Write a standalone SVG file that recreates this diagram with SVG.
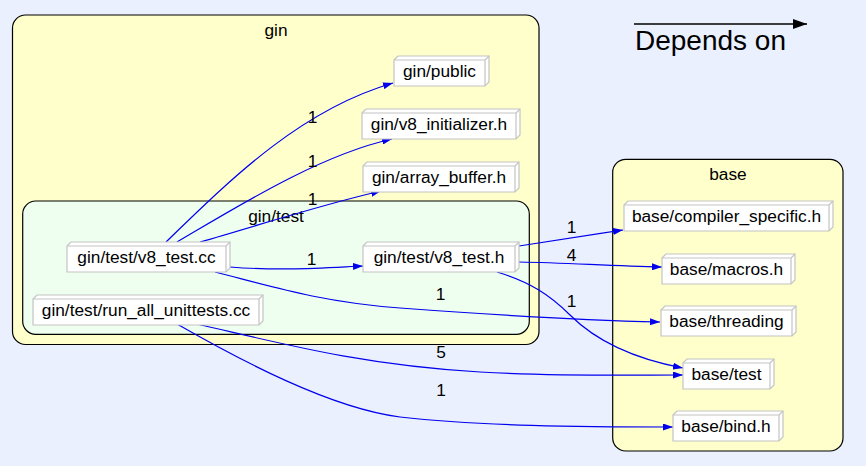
<svg xmlns="http://www.w3.org/2000/svg" width="866" height="466" viewBox="0 0 866 466">
<style>
text{font-family:"Liberation Sans",Arial,sans-serif;font-size:17.3px;fill:#000}
.cl{stroke:#000;stroke-width:1.2}
.n{fill:#fff;stroke:#c4c4c4;stroke-width:1.2}
.nl{fill:none;stroke:#c4c4c4;stroke-width:1.2}
.e{fill:none;stroke:#0000ee;stroke-width:1.2}
.lbl{text-anchor:middle}
</style>
<defs>
<marker id="ah" viewBox="0 0 10 7" refX="10" refY="3.5" markerWidth="10" markerHeight="7" markerUnits="userSpaceOnUse" orient="auto">
<path d="M0,0 L10,3.5 L0,7 Z" fill="#0000ee"/>
</marker>
<marker id="ahk" viewBox="0 0 14 10" refX="14" refY="5" markerWidth="14" markerHeight="10" markerUnits="userSpaceOnUse" orient="auto">
<path d="M0,0 L14,5 L0,10 Z" fill="#000"/>
</marker>
</defs>
<rect width="866" height="466" fill="#ebf0ff"/>

<g id="cluster_gin">
<rect class="cl" x="12.5" y="15" width="526.5" height="329.5" rx="13" fill="#ffffcc"/>
<text class="lbl" x="276" y="36">gin</text>
</g>
<g id="cluster_gin_test">
<rect class="cl" x="22.7" y="201" width="506.6" height="133.3" rx="13" fill="#efffef"/>
<text class="lbl" x="276" y="222">gin/test</text>
</g>
<g id="cluster_base">
<rect class="cl" x="612.7" y="159.3" width="230.3" height="291.7" rx="13" fill="#ffffcc"/>
<text class="lbl" x="728" y="180">base</text>
</g>

<g id="legend">
<line x1="634" y1="24" x2="807" y2="24" stroke="#000" stroke-width="1.5" marker-end="url(#ahk)"/>
<text x="635" y="50" style="font-size:28px">Depends on</text>
</g>

<g id="edges">
<path class="e" d="M166,242 C230,180 300,110 393,83" marker-end="url(#ah)"/>
<text class="lbl" x="312.5" y="123">1</text>
<path class="e" d="M177,242 C240,205 320,155 392,139" marker-end="url(#ah)"/>
<text class="lbl" x="312.5" y="167">1</text>
<path class="e" d="M200,242 C260,225 320,205 381,191" marker-end="url(#ah)"/>
<text class="lbl" x="312.5" y="205">1</text>
<path class="e" d="M230,267 C280,271 320,268 363,266" marker-end="url(#ah)"/>
<text class="lbl" x="311.5" y="265">1</text>
<path class="e" d="M215,272 C270,286 320,302 400,308 C480,314 580,320 660,322" marker-end="url(#ah)"/>
<text class="lbl" x="440.5" y="300">1</text>
<path class="e" d="M519,246 C560,240 590,235 623,230" marker-end="url(#ah)"/>
<text class="lbl" x="571.5" y="233">1</text>
<path class="e" d="M519,262 C570,263 610,266 662,267" marker-end="url(#ah)"/>
<text class="lbl" x="571.5" y="260.5">4</text>
<path class="e" d="M497,272 C530,282 550,295 570,315 C595,340 630,358 683,368" marker-end="url(#ah)"/>
<text class="lbl" x="571.5" y="306.5">1</text>
<path class="e" d="M197,324 C280,343 360,365 480,372 C560,376.5 630,375 683,375" marker-end="url(#ah)"/>
<text class="lbl" x="441" y="358">5</text>
<path class="e" d="M177,324 C240,360 330,408 400,417 C480,426 580,427 673,427" marker-end="url(#ah)"/>
<text class="lbl" x="441" y="395.5">1</text>
</g>

<g id="node_gin_public">
<path class="n" d="M394,60 L398,56 L489,56 L489,82 L485,86 L394,86 Z"/>
<path class="nl" d="M394,60 L485,60 L485,86 M485,60 L489,56"/>
<text class="lbl" x="439.5" y="76.5">gin/public</text>
</g>
<g id="node_gin_v8_initializer">
<path class="n" d="M362,113 L366,109 L520,109 L520,135 L516,139 L362,139 Z"/>
<path class="nl" d="M362,113 L516,113 L516,139 M516,113 L520,109"/>
<text class="lbl" x="439" y="129.5">gin/v8_initializer.h</text>
</g>
<g id="node_gin_array_buffer">
<path class="n" d="M363,166 L367,162 L519,162 L519,188 L515,192 L363,192 Z"/>
<path class="nl" d="M363,166 L515,166 L515,192 M515,166 L519,162"/>
<text class="lbl" x="439" y="182.5">gin/array_buffer.h</text>
</g>
<g id="node_gin_test_v8_test_cc">
<path class="n" d="M67,246 L71,242 L230,242 L230,268 L226,272 L67,272 Z"/>
<path class="nl" d="M67,246 L226,246 L226,272 M226,246 L230,242"/>
<text class="lbl" x="146.5" y="263">gin/test/v8_test.cc</text>
</g>
<g id="node_gin_test_run_all_unittests">
<path class="n" d="M33,299 L37,295 L263,295 L263,321 L259,325 L33,325 Z"/>
<path class="nl" d="M33,299 L259,299 L259,325 M259,299 L263,295"/>
<text class="lbl" x="146" y="316">gin/test/run_all_unittests.cc</text>
</g>
<g id="node_gin_test_v8_test_h">
<path class="n" d="M363,246 L367,242 L519,242 L519,268 L515,272 L363,272 Z"/>
<path class="nl" d="M363,246 L515,246 L515,272 M515,246 L519,242"/>
<text class="lbl" x="439" y="263">gin/test/v8_test.h</text>
</g>
<g id="node_base_compiler_specific">
<path class="n" d="M624,205 L628,201 L833,201 L833,227 L829,231 L624,231 Z"/>
<path class="nl" d="M624,205 L829,205 L829,231 M829,205 L833,201"/>
<text class="lbl" x="726.5" y="222">base/compiler_specific.h</text>
</g>
<g id="node_base_macros">
<path class="n" d="M662,258 L666,254 L795,254 L795,280 L791,284 L662,284 Z"/>
<path class="nl" d="M662,258 L791,258 L791,284 M791,258 L795,254"/>
<text class="lbl" x="726.5" y="275">base/macros.h</text>
</g>
<g id="node_base_threading">
<path class="n" d="M661,310 L665,306 L796,306 L796,332 L792,336 L661,336 Z"/>
<path class="nl" d="M661,310 L792,310 L792,336 M792,310 L796,306"/>
<text class="lbl" x="726.5" y="327">base/threading</text>
</g>
<g id="node_base_test">
<path class="n" d="M683,363 L687,359 L774,359 L774,385 L770,389 L683,389 Z"/>
<path class="nl" d="M683,363 L770,363 L770,389 M770,363 L774,359"/>
<text class="lbl" x="726.5" y="380">base/test</text>
</g>
<g id="node_base_bind">
<path class="n" d="M673,415 L677,411 L783,411 L783,437 L779,441 L673,441 Z"/>
<path class="nl" d="M673,415 L779,415 L779,441 M779,415 L783,411"/>
<text class="lbl" x="726" y="432">base/bind.h</text>
</g>
</svg>
